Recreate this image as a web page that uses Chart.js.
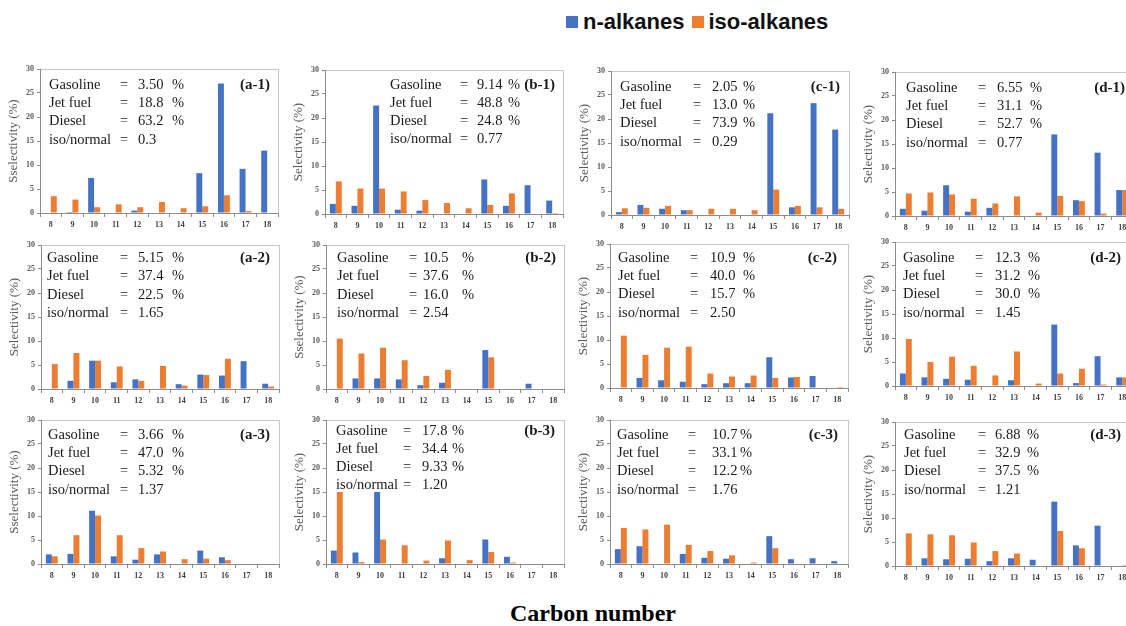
<!DOCTYPE html>
<html>
<head>
<meta charset="utf-8">
<title>Carbon number distribution</title>
<script src="https://cdn.jsdelivr.net/npm/chart.js@4.4.1/dist/chart.umd.min.js"></script>
<style>
  html, body { margin: 0; padding: 0; background: #fff; }
  body { width: 1126px; height: 626px; overflow: hidden; position: relative; }
  canvas { position: absolute; }
  #legend { position: absolute; top: 9px; left: 566px; display: flex; align-items: center;
            font: bold 22px "Liberation Sans", Arial, sans-serif; color: #111; white-space: nowrap; }
  #legend .sw { display: inline-block; width: 12px; height: 12px; margin-right: 5px; }
  #legend .item { display: flex; align-items: center; margin-right: 7px; }
  #xtitle { position: absolute; top: 600px; left: 510px; font: bold 24px "Liberation Serif", serif; color: #000; white-space: nowrap; }
</style>
</head>
<body>
<div id="legend">
  <span class="item"><span class="sw" style="background:#4472C4"></span>n-alkanes</span>
  <span class="item"><span class="sw" style="background:#ED7D31"></span>iso-alkanes</span>
</div>
<div id="xtitle">Carbon number</div>
<script>
// Carbon numbers on the x axis
const carbon = ['8', '9', '10', '11', '12', '13', '14', '15', '16', '17', '18'];

// Selectivity (%) per carbon number: n-alkanes / iso-alkanes
const nA1   = [0, 0.2, 7.3, 0, 0.5, 0, 0, 8.3, 27.0, 9.2, 13.0];
const isoA1 = [3.5, 2.8, 1.2, 1.8, 1.2, 2.3, 1.0, 1.4, 3.7, 0.4, 0];
const nB1   = [2.1, 1.7, 22.6, 0.9, 0.7, 0, 0, 7.2, 1.7, 6.0, 2.8];
const isoB1 = [6.8, 5.3, 5.3, 4.7, 2.9, 2.3, 1.2, 1.9, 4.3, 0, 0.2];
const nC1   = [0.6, 2.1, 1.3, 1.0, 0, 0, 0, 21.2, 1.6, 23.3, 17.8];
const isoC1 = [1.4, 1.5, 1.9, 1.0, 1.3, 1.3, 1.0, 5.3, 1.9, 1.6, 1.3];
const nD1   = [1.5, 1.1, 6.4, 0.9, 1.7, 0, 0, 17.0, 3.3, 13.2, 5.4];
const isoD1 = [4.7, 4.9, 4.5, 3.6, 2.6, 4.1, 0.7, 4.2, 3.1, 0.5, 5.4];

const nA2   = [0, 1.7, 5.9, 1.4, 2.0, 0, 1.0, 3.0, 2.8, 5.8, 1.1];
const isoA2 = [5.2, 7.5, 5.9, 4.7, 1.7, 4.8, 0.7, 2.9, 6.3, 0, 0.5];
const nB2   = [0, 2.2, 2.2, 2.0, 0.8, 1.3, 0, 8.1, 0, 1.1, 0];
const isoB2 = [10.5, 7.4, 8.6, 6.0, 2.7, 4.0, 0, 6.6, 0, 0, 0];
const nC2   = [0, 2.1, 1.6, 1.3, 0.8, 1.0, 1.0, 6.4, 2.2, 2.5, 0];
const isoC2 = [10.9, 6.9, 8.4, 8.6, 3.0, 2.4, 2.6, 2.1, 2.3, 0, 0.2];
const nD2   = [2.6, 1.8, 1.5, 1.3, 0, 1.2, 0, 12.8, 0.6, 6.2, 1.8];
const isoD2 = [9.8, 5.0, 6.1, 4.2, 2.2, 7.2, 0.5, 2.6, 3.6, 0.3, 1.8];

const nA3   = [2.0, 2.1, 11.1, 1.6, 0.9, 2.0, 0, 2.8, 1.4, 0, 0];
const isoA3 = [1.6, 6.0, 10.1, 6.0, 3.3, 2.6, 1.0, 1.1, 0.8, 0, 0];
const nB3   = [2.8, 2.4, 15.0, 0, 0, 1.2, 0, 5.1, 1.5, 0, 0];
const isoB3 = [15.0, 0.4, 5.1, 3.9, 0.7, 4.9, 0.8, 2.5, 0.3, 0, 0];
const nC3   = [3.1, 3.7, 0, 2.1, 1.3, 1.1, 0, 5.8, 1.0, 1.2, 0.6];
const isoC3 = [7.5, 7.2, 8.2, 4.0, 2.7, 1.8, 0.3, 3.3, 0, 0, 0];
const nD3   = [0, 1.6, 1.4, 1.5, 1.0, 1.6, 1.3, 13.4, 4.3, 8.4, 0];
const isoD3 = [6.8, 6.6, 6.4, 4.9, 3.1, 2.6, 0, 7.3, 3.7, 0, 0.2];

// Panel labels and fuel-range summaries
const panelIds  = ['a-1', 'b-1', 'c-1', 'd-1', 'a-2', 'b-2', 'c-2', 'd-2', 'a-3', 'b-3', 'c-3', 'd-3'];
const gasoline  = ['3.50', '9.14', '2.05', '6.55', '5.15', '10.5', '10.9', '12.3', '3.66', '17.8', '10.7', '6.88'];
const jetFuel   = ['18.8', '48.8', '13.0', '31.1', '37.4', '37.6', '40.0', '31.2', '47.0', '34.4', '33.1', '32.9'];
const diesel    = ['63.2', '24.8', '73.9', '52.7', '22.5', '16.0', '15.7', '30.0', '5.32', '9.33', '12.2', '37.5'];
const isoNormal = ['0.3', '0.77', '0.29', '0.77', '1.65', '2.54', '2.50', '1.45', '1.37', '1.20', '1.76', '1.21'];
const yTitles   = ['Sselectivity (%)', 'Selectivity (%)', 'Selectivity (%)', 'Selectivity (%)',
                   'Selectivity (%)', 'Sselectivity (%)', 'Selectivity (%)', 'Selectivity (%)',
                   'Sselectivity (%)', 'Selectivity (%)', 'Selectivity (%)', 'Selectivity (%)'];

const nSeries   = [nA1, nB1, nC1, nD1, nA2, nB2, nC2, nD2, nA3, nB3, nC3, nD3];
const isoSeries = [isoA1, isoB1, isoC1, isoD1, isoA2, isoB2, isoC2, isoD2, isoA3, isoB3, isoC3, isoD3];

// Plot-area placement on the page and text offsets inside each plot
const PW = 238, PH = 144;
const frames = [
  { l: 40,  t: 69,  nx: 9,  ex: 80,  vx: 98,  px: 132, y0: 16, lh: 18.3, lr: 8 },
  { l: 325, t: 70,  nx: 65, ex: 135, vx: 152, px: 183, y0: 15, lh: 18.2, lr: 8 },
  { l: 611, t: 71,  nx: 9,  ex: 82,  vx: 101, px: 132, y0: 16, lh: 18.3, lr: 9 },
  { l: 895, t: 72,  nx: 11, ex: 83,  vx: 102, px: 135, y0: 16, lh: 18.3, lr: 8 },
  { l: 41,  t: 245, nx: 6,  ex: 79,  vx: 97,  px: 131, y0: 13, lh: 18.5, lr: 9 },
  { l: 326, t: 245, nx: 11, ex: 83,  vx: 97,  px: 136, y0: 13, lh: 18.4, lr: 8 },
  { l: 610, t: 244, nx: 8,  ex: 80,  vx: 100, px: 133, y0: 14, lh: 18.3, lr: 11 },
  { l: 895, t: 242, nx: 8,  ex: 80,  vx: 100, px: 133, y0: 16, lh: 18.3, lr: 12 },
  { l: 41,  t: 420, nx: 7,  ex: 79,  vx: 97,  px: 131, y0: 15, lh: 18.3, lr: 9 },
  { l: 326, t: 420, nx: 10, ex: 77,  vx: 96,  px: 126, y0: 11, lh: 18.2, lr: 9 },
  { l: 610, t: 420, nx: 7,  ex: 78,  vx: 102, px: 130, y0: 15, lh: 18.3, lr: 10 },
  { l: 895, t: 422, nx: 9,  ex: 83,  vx: 100, px: 132, y0: 13, lh: 18.3, lr: 12 }
];

const YW = 34, XH = 22, PADT = 8, PADR = 6;
const serif = '"Liberation Serif", "Times New Roman", serif';

// Light frame around the plot area plus the summary block and panel tag
const panelDecor = {
  id: 'panelDecor',
  beforeDraw(chart) {
    const { ctx, chartArea: ca } = chart;
    ctx.save();
    ctx.strokeStyle = '#c8c8c8';
    ctx.lineWidth = 1;
    ctx.strokeRect(Math.round(ca.left) + 0.5, Math.round(ca.top) + 0.5,
                   Math.round(ca.right - ca.left), Math.round(ca.bottom - ca.top));
    ctx.restore();
  },
  afterDraw(chart, args, o) {
    const { ctx, chartArea: ca } = chart;
    ctx.save();
    ctx.fillStyle = '#1a1a1a';
    ctx.textBaseline = 'middle';
    ctx.textAlign = 'left';
    ctx.font = '14.5px ' + serif;
    const rows = [
      ['Gasoline', o.g, '%'],
      ['Jet fuel', o.j, '%'],
      ['Diesel', o.d, '%'],
      ['iso/normal', o.r, '']
    ];
    rows.forEach((r, k) => {
      const y = ca.top + o.y0 + k * o.lh;
      ctx.fillText(r[0], ca.left + o.nx, y);
      ctx.fillText('=', ca.left + o.ex, y);
      ctx.fillText(r[1], ca.left + o.vx, y);
      if (r[2]) ctx.fillText(r[2], ca.left + o.px, y);
    });
    ctx.font = 'bold 15px ' + serif;
    ctx.textAlign = 'right';
    ctx.fillText('(' + o.id + ')', ca.right - o.lr, ca.top + o.y0);
    ctx.restore();
  }
};

function makePanel(i) {
  const f = frames[i];
  const cv = document.createElement('canvas');
  const W = YW + PW + PADR, H = PADT + PH + XH;
  cv.width = W; cv.height = H;
  cv.style.width = W + 'px'; cv.style.height = H + 'px';
  cv.style.left = (f.l - YW) + 'px';
  cv.style.top = (f.t - PADT) + 'px';
  document.body.appendChild(cv);

  const chart = new Chart(cv, {
    type: 'bar',
    data: {
      labels: carbon,
      datasets: [
        { label: 'n-alkanes', data: nSeries[i], backgroundColor: '#4472C4', borderWidth: 0 },
        { label: 'iso-alkanes', data: isoSeries[i], backgroundColor: '#ED7D31', borderWidth: 0 }
      ]
    },
    options: {
      responsive: false,
      animation: false,
      devicePixelRatio: 1,
      layout: { padding: { top: PADT, right: PADR, left: 0, bottom: 0 } },
      datasets: { bar: { categoryPercentage: 0.55, barPercentage: 1.0 } },
      plugins: {
        legend: { display: false },
        tooltip: { enabled: false },
        panelDecor: {
          id: panelIds[i], g: gasoline[i], j: jetFuel[i], d: diesel[i], r: isoNormal[i],
          nx: f.nx, ex: f.ex, vx: f.vx, px: f.px, y0: f.y0, lh: f.lh, lr: f.lr
        }
      },
      scales: {
        x: {
          grid: { display: true, drawOnChartArea: false, drawTicks: true, tickLength: 4, color: '#8c8c8c', offset: true },
          border: { display: true, color: '#8c8c8c', width: 1 },
          ticks: { font: { family: serif, size: 8, weight: 'bold' }, color: '#404040', padding: 3, maxRotation: 0, autoSkip: false },
          afterFit: s => { s.height = XH; }
        },
        y: {
          min: 0, max: 30,
          ticks: { stepSize: 5, font: { family: serif, size: 8, weight: 'bold' }, color: '#595959', padding: 3 },
          grid: { display: true, drawOnChartArea: false, drawTicks: true, tickLength: 3, color: '#8c8c8c' },
          border: { display: true, color: '#8c8c8c', width: 1 },
          title: { display: true, text: yTitles[i], font: { family: serif, size: 13, weight: 'normal', lineHeight: 1.1 }, color: '#595959', padding: 0 },
          afterFit: s => { s.width = YW; }
        }
      }
    },
    plugins: [panelDecor]
  });

  // Align the drawn plot area with its slot on the page
  const ca = chart.chartArea;
  cv.style.left = (f.l - ca.left) + 'px';
  cv.style.top = (f.t - ca.top) + 'px';
}

for (let i = 0; i < panelIds.length; i++) makePanel(i);
</script>
</body>
</html>
